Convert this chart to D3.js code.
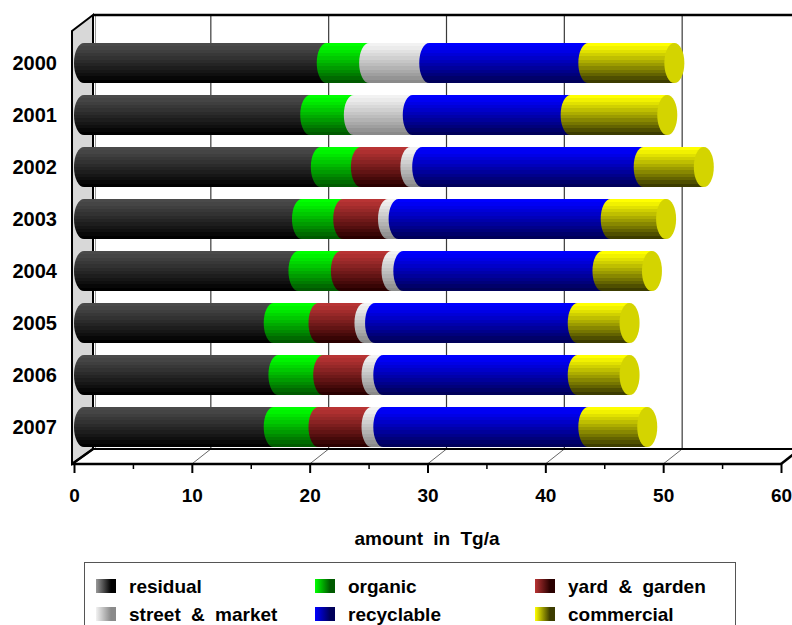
<!DOCTYPE html>
<html lang="en">
<head>
<meta charset="utf-8"/>
<title>Waste amounts 2000-2007</title>
<script src="https://d3js.org/d3.v7.min.js"></script>
<style>
  body { margin: 0; background: #fff; }
  text { font-family: "Liberation Sans", Arial, sans-serif; font-weight: bold; fill: #000; }
</style>
</head>
<body>
<script>
// chart values (Tg/a)
var years = ["2000", "2001", "2002", "2003", "2004", "2005", "2006", "2007"];
var residual     = [20.6, 19.2, 20.1, 18.5, 18.2, 16.1, 16.5, 16.1];
var organic      = [3.6, 3.7, 3.4, 3.5, 3.6, 3.8, 3.8, 3.8];
var yardGarden   = [0, 0, 4.2, 3.8, 4.3, 3.9, 4.1, 4.5];
var streetMarket = [5.1, 5.0, 1.0, 0.9, 1.0, 0.9, 1.0, 1.0];
var recyclable   = [13.5, 13.4, 18.8, 18.0, 16.9, 17.2, 16.5, 17.4];
var commercial   = [7.3, 8.2, 5.1, 4.7, 4.2, 4.4, 4.4, 5.0];
var seriesNames  = ["residual", "organic", "yard & garden", "street & market", "recyclable", "commercial"];
var xTicks = [0, 10, 20, 30, 40, 50, 60];

// colours: light (top) -> dark (bottom) of each cylinder
var lightCol = ["#4a4a4a", "#00ff00", "#b83434", "#f2f2f2", "#0000ff", "#ffff00"];
var darkCol  = ["#000000", "#005a00", "#2a0000", "#8a8a8a", "#00005a", "#3c3c00"];
var capCol   = ["#202020", "#00c800", "#8a2020", "#d0d0d0", "#0000c8", "#d4d400"];

var allSeries = [residual, organic, yardGarden, streetMarket, recyclable, commercial];

var w = 792, h = 625;
var depthX = 21, depthY = 16;

var svg = d3.select("body").append("svg")
    .attr("width", w)
    .attr("height", h);

var defs = svg.append("defs");

// stepped vertical gradients for the bars
allSeries.forEach(function (s, i) {
  var g = defs.append("linearGradient")
      .attr("id", "bar" + i)
      .attr("x1", 0).attr("y1", 0).attr("x2", 0).attr("y2", 1);
  var n = 12;
  var interp = d3.interpolateRgb(lightCol[i], darkCol[i]);
  for (var k = 0; k < n; k++) {
    var t = Math.pow(k / (n - 1), 1.1);
    g.append("stop").attr("offset", k / n).attr("stop-color", interp(t));
    g.append("stop").attr("offset", (k + 1) / n).attr("stop-color", interp(t));
  }
  var lg = defs.append("linearGradient")
      .attr("id", "leg" + i)
      .attr("x1", 0).attr("y1", 0).attr("x2", 1).attr("y2", 0);
  var li = i == 0 ? "#9a9a9a" : lightCol[i];
  lg.append("stop").attr("offset", 0).attr("stop-color", li);
  lg.append("stop").attr("offset", 0.75).attr("stop-color", darkCol[i]);
  lg.append("stop").attr("offset", 1).attr("stop-color", darkCol[i]);
});

// scales: front plane, back plane and the mid plane where the cylinders sit
var xFront = d3.scaleLinear().domain([0, 60]).range([74, 781]);
var xBack = d3.scaleLinear().domain([0, 60]).range([74 + depthX - 2, 781 + depthX - 2]);
var xMid = d3.scaleLinear().domain([0, 60]).range([84, 791]);

var yScale = d3.scaleBand()
    .domain(years)
    .range([37, 453])
    .paddingInner(0.23)
    .paddingOuter(0.115);

var backTop = 15, backBottom = 449, frontBottom = 464;

// left wall
svg.append("polygon")
    .attr("points", [[72, backTop + depthY], [93, backTop], [93, backBottom], [72, frontBottom]].join(" "))
    .attr("fill", "#d8d8d8")
    .attr("stroke", "#000")
    .attr("stroke-width", 2);
svg.append("line")
    .attr("x1", 95.5).attr("x2", 95.5).attr("y1", backTop).attr("y2", backBottom)
    .attr("stroke", "#999").attr("stroke-width", 1);

// back wall gridlines and floor diagonals
var grid = xTicks.filter(function (d) { return d > 0 && d < 60; });
svg.selectAll(".grid")
    .data(grid)
    .enter().append("line")
    .attr("x1", function (d) { return xBack(d); })
    .attr("x2", function (d) { return xBack(d); })
    .attr("y1", backTop)
    .attr("y2", backBottom)
    .attr("stroke", "#3a3a3a")
    .attr("stroke-width", 1.2);
svg.selectAll(".floorline")
    .data(grid)
    .enter().append("line")
    .attr("x1", function (d) { return xBack(d); })
    .attr("x2", function (d) { return xFront(d); })
    .attr("y1", backBottom)
    .attr("y2", frontBottom)
    .attr("stroke", "#666")
    .attr("stroke-width", 1);

// box edges
svg.append("line").attr("x1", 93).attr("x2", w).attr("y1", backTop).attr("y2", backTop)
    .attr("stroke", "#000").attr("stroke-width", 2.5);
svg.append("line").attr("x1", 93).attr("x2", w).attr("y1", backBottom).attr("y2", backBottom)
    .attr("stroke", "#000").attr("stroke-width", 2);
svg.append("line").attr("x1", 72).attr("x2", xFront(60)).attr("y1", frontBottom).attr("y2", frontBottom)
    .attr("stroke", "#000").attr("stroke-width", 2.5);
svg.append("line").attr("x1", xFront(60)).attr("x2", xBack(60)).attr("y1", frontBottom).attr("y2", backBottom)
    .attr("stroke", "#000").attr("stroke-width", 2.5);
svg.append("line").attr("x1", 72).attr("x2", 93).attr("y1", frontBottom).attr("y2", backBottom)
    .attr("stroke", "#000").attr("stroke-width", 2.5);

// cylinders
var rx = 10;
years.forEach(function (yr, j) {
  var yt = yScale(yr);
  var yb = yt + yScale.bandwidth();
  var ry = yScale.bandwidth() / 2;
  var start = 0;
  var segs = [];
  allSeries.forEach(function (s, i) {
    segs.push({ i: i, x0: start, x1: start + s[j] });
    start += s[j];
  });
  segs = segs.filter(function (d) { return d.x1 > d.x0; });
  var g = svg.append("g");
  g.selectAll("path")
      .data(segs)
      .enter().append("path")
      .attr("d", function (d) {
        var a = xMid(d.x0), b = xMid(d.x1);
        return "M" + a + "," + yt + "L" + b + "," + yt + "L" + b + "," + yb +
               "L" + a + "," + yb + "A" + rx + "," + ry + " 0 0 1 " + a + "," + yt + "Z";
      })
      .attr("fill", function (d) { return "url(#bar" + d.i + ")"; });
  var last = segs[segs.length - 1];
  g.append("ellipse")
      .attr("cx", xMid(last.x1))
      .attr("cy", yt + ry)
      .attr("rx", rx)
      .attr("ry", ry)
      .attr("fill", capCol[last.i]);
});

// x axis on the front edge
var xAxis = d3.axisBottom(xFront)
    .tickValues(xTicks)
    .tickSize(9)
    .tickPadding(16)
    .tickFormat(d3.format("d"));
var ax = svg.append("g")
    .attr("transform", "translate(0," + frontBottom + ")")
    .call(xAxis);
ax.select(".domain").remove();
ax.selectAll(".tick line").attr("stroke", "#000").attr("stroke-width", 2);
ax.selectAll(".tick text")
    .style("font-family", "'Liberation Sans', Arial, sans-serif")
    .style("font-weight", "bold")
    .style("font-size", "19px")
    .attr("fill", "#000");

var minor = d3.axisBottom(xFront)
    .tickValues([5, 15, 25, 35, 45, 55])
    .tickSize(5)
    .tickFormat("");
var mx = svg.append("g")
    .attr("transform", "translate(0," + frontBottom + ")")
    .call(minor);
mx.select(".domain").remove();
mx.selectAll(".tick line").attr("stroke", "#000").attr("stroke-width", 1.5);

// year labels
svg.selectAll(".ylab")
    .data(years)
    .enter().append("text")
    .attr("x", 57)
    .attr("y", function (d) { return yScale(d) + yScale.bandwidth() / 2; })
    .attr("dy", "0.36em")
    .attr("text-anchor", "end")
    .style("font-size", "20px")
    .text(function (d) { return d; });

// axis title
svg.append("text")
    .attr("x", 427)
    .attr("y", 545)
    .attr("text-anchor", "middle")
    .style("font-size", "19px")
    .style("word-spacing", "5px")
    .text("amount in Tg/a");

// legend
svg.append("rect")
    .attr("x", 84.5).attr("y", 562.5)
    .attr("width", 651).attr("height", 80)
    .attr("fill", "#fff")
    .attr("stroke", "#555")
    .attr("stroke-width", 1);

var legX = [96, 315, 535];
var legY = [593, 621];
var leg = svg.selectAll(".legitem")
    .data(seriesNames)
    .enter().append("g")
    .attr("transform", function (d, i) {
      return "translate(" + legX[i % 3] + "," + legY[Math.floor(i / 3)] + ")";
    });
leg.append("rect")
    .attr("x", 0).attr("y", -14)
    .attr("width", 20).attr("height", 14)
    .attr("fill", function (d, i) { return "url(#leg" + i + ")"; });
leg.append("text")
    .attr("x", 33).attr("y", 0)
    .style("font-size", "19px")
    .style("word-spacing", "5px")
    .text(function (d) { return d; });
</script>
</body>
</html>
